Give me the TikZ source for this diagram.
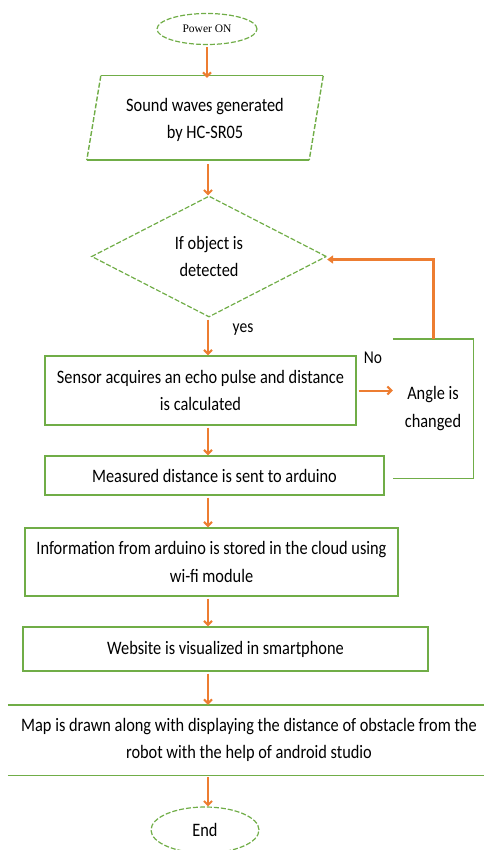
\documentclass[tikz,border=0pt]{standalone}
\usepackage{fontspec}
\setmainfont{Carlito}[FakeStretch=0.86]
\newfontfamily\timesf{Liberation Serif}
\usetikzlibrary{shapes.geometric,arrows.meta}
\definecolor{grn}{RGB}{112,173,71}
\definecolor{org}{RGB}{237,125,49}
\begin{document}
\begin{tikzpicture}[x=1pt,y=-1pt,
  txt/.style={align=center,inner sep=0pt,font=\fontsize{19}{27.5}\selectfont},
  box/.style={txt,rectangle,draw=grn,line width=1.4pt},
  ghost/.style={txt,rectangle,draw=none},
  term/.style={ellipse,draw=grn,dash pattern=on 5pt off 2pt,line width=1.2pt,inner sep=0pt},
  dec/.style={txt,diamond,draw=grn,dash pattern=on 5pt off 2pt,line width=1.2pt},
  arr/.style={draw=org,line width=2pt,-{Straight Barb[length=4pt,width=8pt]},shorten <=2pt},
  back/.style={draw=org,line width=3pt,-{Triangle[length=6pt,width=8pt]}},
  gline/.style={draw=grn,line width=1.4pt},
  lbl/.style={inner sep=0pt,font=\fontsize{18}{20}\selectfont}
]
\useasboundingbox (0,0) rectangle (483,850);
\coordinate (col) at (208,0);

\node[term,minimum width=100,minimum height=31,font=\timesf\fontsize{11.5}{13}\selectfont] (pwr) at (207,29) {Power ON};

\node[ghost,minimum width=222,minimum height=84] (snd) at (205,120) {Sound waves generated\\by HC-SR05};
\draw[gline] ([xshift=7pt,yshift=2pt]snd.north west) -- ([xshift=7pt,yshift=2pt]snd.north east);
\draw[gline] ([xshift=-7pt,yshift=2pt]snd.south west) -- ([xshift=-7pt,yshift=2pt]snd.south east);
\draw[gline,dash pattern=on 5pt off 2pt] ([xshift=7pt,yshift=2pt]snd.north west) -- ([xshift=-7pt,yshift=2pt]snd.south west);
\draw[gline,dash pattern=on 5pt off 2pt] ([xshift=7pt,yshift=2pt]snd.north east) -- ([xshift=-7pt,yshift=2pt]snd.south east);

\node[dec,minimum width=235,minimum height=121] (dia) at (209,256.5) {If object is\\detected};

\node[box,minimum width=311,minimum height=69] (sen) at (200.5,390.5) {Sensor acquires an echo pulse and distance\\is calculated};

\node[ghost,minimum width=80,minimum height=139] (ang) at (433,408.5) {Angle is\\changed};
\draw[gline] (ang.north west) -- (ang.north east) -- (ang.south east) -- (ang.south west);

\node[box,minimum width=339,minimum height=39] (mea) at (214.5,475.5) {Measured distance is sent to arduino};

\node[box,minimum width=373,minimum height=68] (inf) at (211.5,562) {Information from arduino is stored in the cloud using\\wi-fi module};

\node[box,minimum width=405,minimum height=44] (web) at (225.5,649) {Website is visualized in smartphone};

\node[ghost,minimum width=482,minimum height=70] (map) at (249,740) {Map is drawn along with displaying the distance of obstacle from the\\robot with the help of android studio};
\draw[gline] (map.north west) -- (map.north east);
\draw[gline] (map.south west) -- (map.south east);

\node[term,minimum width=108,minimum height=46,font=\fontsize{19}{20}\selectfont] (end) at (205,830) {End};

\draw[arr] (pwr.south) -- (pwr.south |- snd.north);
\draw[arr] (snd.south -| col) -- (dia.north -| col);
\draw[arr] (dia.south -| col) -- (sen.north -| col);
\draw[arr] (sen.south -| col) -- (mea.north -| col);
\draw[arr] (mea.south -| col) -- (inf.north -| col);
\draw[arr] (inf.south -| col) -- (web.north -| col);
\draw[arr] (web.south -| col) -- (map.north -| col);
\draw[arr] (map.south -| col) -- (end.north -| col);
\draw[arr] (sen.east) -- (sen.east -| ang.west);
\draw[back] (ang.north) |- ([yshift=-3pt]dia.east);

\node[lbl] (yes) at (243,330) {yes};
\node[lbl] (no) at (373,358) {No};
\end{tikzpicture}
\end{document}
